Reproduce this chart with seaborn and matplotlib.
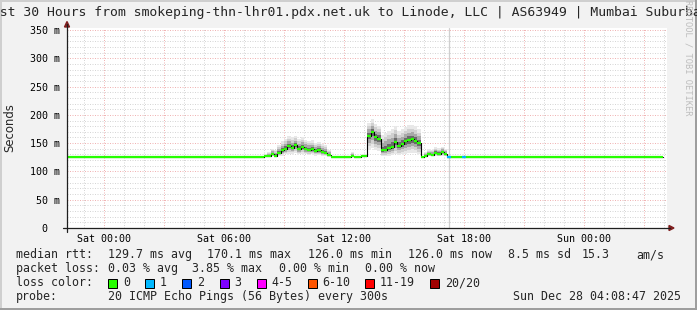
import matplotlib
matplotlib.use("Agg")
import matplotlib.pyplot as plt
import matplotlib.dates as mdates
from matplotlib.ticker import MultipleLocator, FuncFormatter
from matplotlib.patches import Rectangle, Polygon
from matplotlib.lines import Line2D
import numpy as np
import pandas as pd
import seaborn as sns

# ---------------- data ----------------
title = "Last 30 Hours from smokeping-thn-lhr01.pdx.net.uk to Linode, LLC | AS63949 | Mumbai Suburban"
y_label = "Seconds"
window_start = "2025-12-26 22:08:47"
window_end = "2025-12-28 04:08:47"
series_start = "2025-12-26 22:09"
series_end = "2025-12-28 03:57"
baseline_ms = 126.0
sample_step = "10min"

seg1_start = "2025-12-27 08:00"
seg1_median = [127, 128, 131, 128, 133, 137, 140, 145, 142, 146, 140, 143, 140, 138, 139, 136, 137, 134, 133, 129, 126]
seg1_low = [126, 126, 127, 126, 127, 128, 130, 131, 131, 132, 130, 131, 130, 129, 130, 128, 129, 128, 127, 126, 126]
seg1_high = [130, 134, 140, 138, 146, 153, 158, 162, 160, 163, 158, 160, 156, 154, 155, 151, 152, 148, 146, 138, 126]

seg2_start = "2025-12-27 12:20"
seg2_median = [128, 126, 126, 127, 127, 163, 169, 160, 158, 137, 138, 141, 144, 152, 145, 148, 153, 155, 157, 154, 150, 126]
seg2_low = [126, 126, 126, 126, 126, 138, 142, 138, 136, 127, 127, 128, 129, 130, 129, 130, 131, 132, 133, 132, 130, 126]
seg2_high = [134, 128, 126, 129, 130, 186, 192, 184, 180, 165, 168, 172, 175, 180, 172, 175, 178, 182, 182, 180, 175, 126]

seg3_start = "2025-12-27 16:00"
seg3_median = [127, 130, 129, 133, 131, 134, 131, 126]
seg3_low = [126, 127, 127, 128, 127, 128, 127, 126]
seg3_high = [134, 139, 138, 143, 141, 144, 140, 126]

loss_times = ["2025-12-27 17:10", "2025-12-27 17:55"]
loss_counts = [1, 1]

ytick_values = [0, 50, 100, 150, 200, 250, 300, 350]
ytick_labels = ["  0", " 50 m", "100 m", "150 m", "200 m", "250 m", "300 m", "350 m"]
y_top = 353.5

loss_labels = ["0", "1", "2", "3", "4-5", "6-10", "11-19", "20/20"]
loss_colors = ["#26ff00", "#00b8ff", "#0059ff", "#7e00ff", "#ff00ff", "#ff5500", "#ff0000", "#a10000"]

rtt_labels = ["129.7 ms avg", "170.1 ms max", "126.0 ms min", "126.0 ms now", "8.5 ms sd", "15.3", "am/s"]
loss_stats = ["0.03 % avg", "3.85 % max", "0.00 % min", "0.00 % now"]
probe_text = "20 ICMP Echo Pings (56 Bytes) every 300s"
stamp_text = "Sun Dec 28 04:08:47 2025"

# ---------------- build table ----------------
def seg_frame(start, med, lo, hi):
    t = pd.date_range(start, periods=len(med), freq=sample_step)
    return pd.DataFrame({"time": t, "median": med, "low": lo, "high": hi})

def point_frame(t):
    return pd.DataFrame({"time": [pd.Timestamp(t)], "median": [baseline_ms],
                         "low": [baseline_ms], "high": [baseline_ms]})

df = pd.concat([point_frame(series_start),
                seg_frame(seg1_start, seg1_median, seg1_low, seg1_high),
                seg_frame(seg2_start, seg2_median, seg2_low, seg2_high),
                seg_frame(seg3_start, seg3_median, seg3_low, seg3_high),
                point_frame(series_end)], ignore_index=True)
df = df.astype({"median": float, "low": float, "high": float})

# ---------------- style ----------------
sns.set_style("white")
MONO = "DejaVu Sans Mono"
plt.rcParams["font.family"] = [MONO]
W, H = 697, 310
BACK = "#f2f2f2"
SHADEA = "#cfcfcf"
SHADEB = "#9e9e9e"
GRID = "#d6d6d6"
MGRID = "#f0b4b4"
AXIS = "#1f1f1f"
ARROW = "#801f1f"

fig = plt.figure(figsize=(W / 100, H / 100), dpi=100, facecolor=BACK)

def fx(x):
    return x / W

def fy(y):
    return 1 - y / H

# 3D frame of the canvas
for (x0, y0, w, h, c) in [(0, 0, W, 2, SHADEA), (0, 0, 2, H, SHADEA),
                          (W - 2, 0, 2, H, SHADEB), (0, H - 2, W, 2, SHADEB)]:
    fig.add_artist(Rectangle((fx(x0), fy(y0 + h)), w / W, h / H, facecolor=c, lw=0,
                             transform=fig.transFigure, zorder=0))

ax = fig.add_axes([fx(67), fy(228), 600 / W, 200 / H])
ax.set_facecolor("white")

# smoke
fracs = [1.0, 0.75, 0.5, 0.25]
shades = ["#e8e8e8", "#d0d0d0", "#a8a8a8", "#6a6a6a"]
for f, c in zip(fracs, shades):
    ax.fill_between(df["time"].values,
                    df["median"] - f * (df["median"] - df["low"]),
                    df["median"] + f * (df["high"] - df["median"]),
                    step="post", color=c, lw=0, zorder=2)

# median: black steps + loss-coloured horizontals
sns.lineplot(data=df, x="time", y="median", color="black", lw=0.8,
             drawstyle="steps-post", ax=ax, zorder=3, legend=False)
t = df["time"].values
ax.hlines(df["median"].values[:-1], t[:-1], t[1:], color=loss_colors[0], lw=1.6, zorder=4)
for lt, n in zip(loss_times, loss_counts):
    t0 = pd.Timestamp(lt)
    ax.hlines(baseline_ms, t0, t0 + pd.Timedelta(sample_step), color=loss_colors[n], lw=1.6, zorder=5)
ax.axvline(pd.Timestamp(loss_times[0]) + pd.Timedelta("5min"), color="#cfcfcf", lw=0.9, zorder=1.5)

ax.set_xlim(pd.Timestamp(window_start), pd.Timestamp(window_end))
ax.set_ylim(0, y_top)

ax.xaxis.set_major_locator(mdates.HourLocator(byhour=range(0, 24, 3)))
ax.xaxis.set_minor_locator(mdates.HourLocator())

def xfmt(v, pos):
    d = mdates.num2date(v)
    return d.strftime("%a %H:%M") if d.hour % 6 == 0 else ""

ax.xaxis.set_major_formatter(FuncFormatter(xfmt))
ax.set_yticks(ytick_values)
ax.set_yticklabels(ytick_labels)
ax.yaxis.set_minor_locator(MultipleLocator(10))
ax.set_axisbelow(True)
ax.grid(which="minor", color=GRID, ls=(0, (1, 1.5)), lw=0.72, zorder=0)
ax.grid(which="major", color=MGRID, ls=(0, (1, 1.5)), lw=0.72, zorder=0.5)
ax.tick_params(axis="both", which="both", length=0, labelsize=7.2, colors="black")
ax.tick_params(axis="x", pad=4)
ax.tick_params(axis="y", pad=26.6)
for lab in ax.get_yticklabels():
    lab.set_horizontalalignment("left")
ax.set_xlabel("")
ax.set_ylabel("")
for s in ax.spines.values():
    s.set_visible(False)

# axes lines and arrows
fig.add_artist(Line2D([fx(67), fx(67)], [fy(232), fy(24)], color=AXIS, lw=0.9, transform=fig.transFigure))
fig.add_artist(Line2D([fx(63), fx(670)], [fy(228), fy(228)], color=AXIS, lw=0.9, transform=fig.transFigure))
fig.add_artist(Polygon([(fx(67), fy(21.5)), (fx(64.5), fy(27)), (fx(69.5), fy(27))], closed=True,
                       color=ARROW, transform=fig.transFigure))
fig.add_artist(Polygon([(fx(674), fy(228)), (fx(669), fy(225.5)), (fx(669), fy(230.5))], closed=True,
                       color=ARROW, transform=fig.transFigure))

# texts
fig.text(fx(-16.2), fy(16), title, ha="left", va="baseline", fontsize=9.48, family=MONO)
fig.text(fx(10), fy(127.5), y_label, rotation=90, ha="center", va="center", fontsize=8.4, family="DejaVu Sans")
fig.text(fx(688), fy(58), "RRDTOOL / TOBI OETIKER", rotation=270, ha="center", va="center",
         fontsize=6.3, color="#bdbdbd", family=MONO)

FS = 8.37
def T(x, y, s):
    fig.text(fx(x), fy(y), s, ha="left", va="baseline", fontsize=FS, family=MONO)

T(16, 258, "median rtt:")
for x, s in zip([107.6, 207, 307.5, 408, 507.5, 582, 636.4], rtt_labels):
    T(x, 258, s)
T(16, 272, "packet loss:")
for x, s in zip([107.6, 192.4, 279, 365.3], loss_stats):
    T(x, 272, s)
T(16, 286, "loss color:")
box_x = [108, 145, 182, 219.5, 256.5, 307.5, 365, 430]
for x, lab, col in zip(box_x, loss_labels, loss_colors):
    fig.add_artist(Rectangle((fx(x), fy(287.5)), 9 / W, 9 / H, facecolor=col, edgecolor="black",
                             lw=0.72, transform=fig.transFigure))
    T(x + 15, 286, lab)
T(16, 300, "probe:")
T(107.6, 300, probe_text)
T(513, 300, stamp_text)

fig.savefig("out.png", dpi=100, facecolor=BACK)
